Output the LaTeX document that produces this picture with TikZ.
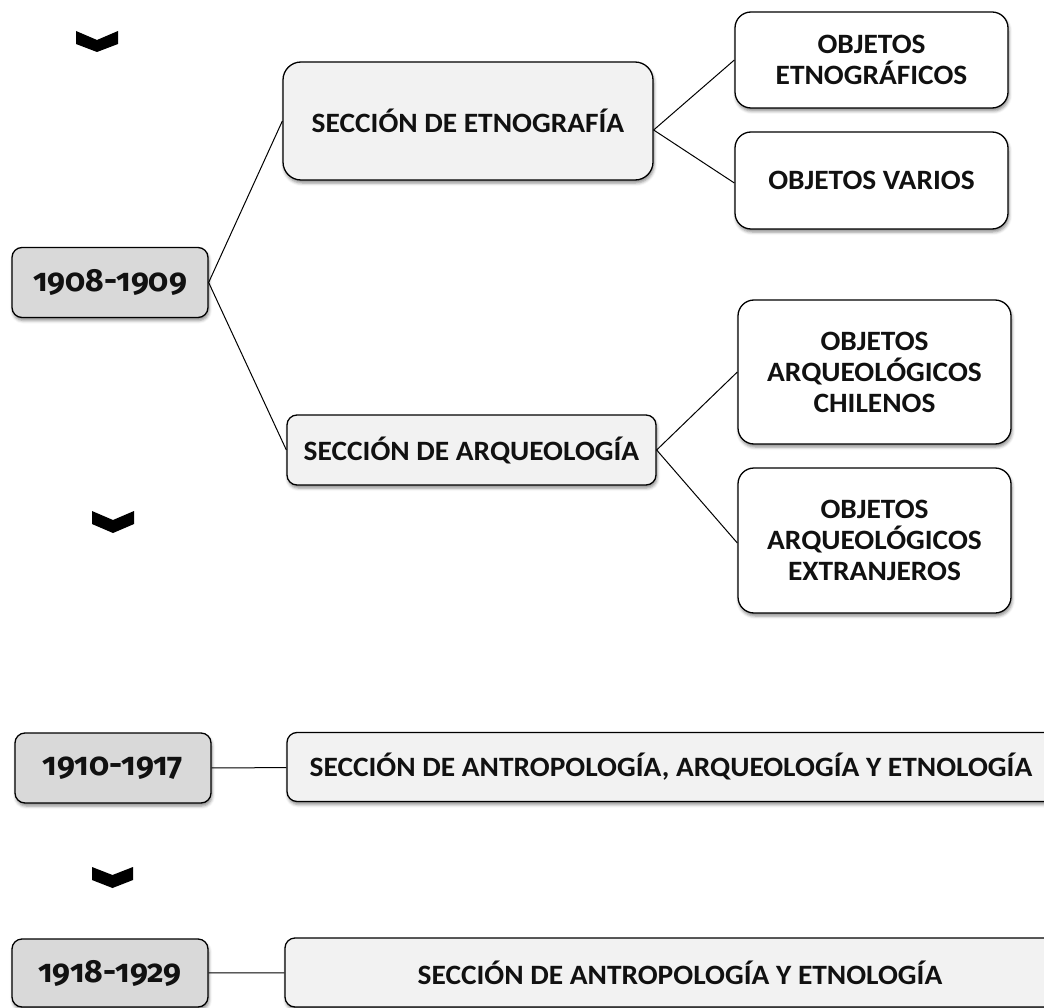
\documentclass[tikz,border=0pt]{standalone}
\usepackage{fontspec}
\setmainfont{Carlito}[FakeStretch=1.05]
\newfontfamily\yearfont{Fira Sans}[Numbers=OldStyle]
\usetikzlibrary{shadows.blur}

\definecolor{yearfill}{HTML}{D9D9D9}
\definecolor{secfill}{HTML}{F2F2F2}
\definecolor{inktext}{HTML}{111111}

\begin{document}
\begin{tikzpicture}[x=1pt,y=-1pt,
  box/.style={draw=black, line width=1.3pt, rounded corners=#1, align=center,
    text=inktext, inner sep=0pt,
    font=\bfseries\fontsize{28}{31}\selectfont,
    blur shadow={shadow xshift=1pt, shadow yshift=-3pt, shadow blur radius=3pt,
      shadow opacity=45}},
  yearbox/.style={box=10pt, fill=yearfill, minimum width=196pt, minimum height=70pt,
    font=\yearfont\bfseries\fontsize{32}{34}\selectfont},
  secbox/.style={box=#1, fill=secfill},
  objbox/.style={box=16pt, fill=white, minimum width=273pt},
  link/.style={draw=black, line width=1pt},
  chev/.style={fill=black, draw=none}]

\useasboundingbox (0,0) rectangle (1044,1008);
\clip (0,0) rectangle (1044,1008);

% period 1908-1909
\node[yearbox] (y1) at (110,282.5) {1908-1909};
\node[secbox=18pt, minimum width=370pt, minimum height=118pt] (etno) at (468,121) {SECCIÓN DE ETNOGRAFÍA};
\node[secbox=10pt, minimum width=369pt, minimum height=70pt] (arq) at (471.5,450) {SECCIÓN DE ARQUEOLOGÍA};
\node[objbox, minimum height=96pt] (oe) at (871.5,60) {OBJETOS\\ETNOGRÁFICOS};
\node[objbox, minimum height=97pt] (ov) at (871.5,180.5) {OBJETOS VARIOS};
\node[objbox, minimum height=144pt] (ach) at (874.5,372) {OBJETOS\\ARQUEOLÓGICOS\\CHILENOS};
\node[objbox, minimum height=145pt] (aex) at (874.5,540.5) {OBJETOS\\ARQUEOLÓGICOS\\EXTRANJEROS};

\draw[link] (etno.west) -- (y1.east) -- (arq.west);
\draw[link] (oe.west) -- ([yshift=-9pt]etno.east) -- ([yshift=-2.5pt]ov.west);
\draw[link] (ach.west) -- (arq.east) -- ([yshift=-2.5pt]aex.west);

% period 1910-1917
\node[yearbox] (y2) at (113,768) {1910-1917};
\node[secbox=10pt, minimum width=768pt, minimum height=69pt] (s2) at (671,767) {SECCIÓN DE ANTROPOLOGÍA, ARQUEOLOGÍA Y ETNOLOGÍA};
\draw[link] (y2) -- (s2);

% period 1918-1929
\node[yearbox, minimum height=68pt] (y3) at (110,973) {1918-1929};
\node[secbox=10pt, minimum width=790pt, minimum height=69pt] (s3) at (680,972.5) {SECCIÓN DE ANTROPOLOGÍA Y ETNOLOGÍA};
\draw[link] (y3) -- (s3);

% chevrons between periods
\fill[chev] (76,31) -- (97,40) -- (118,31) -- (118,44) -- (97,52) -- (76,44) -- cycle;
\fill[chev] (92,511) -- (113,520) -- (134,511) -- (134,524) -- (113,533) -- (92,524) -- cycle;
\fill[chev] (92,867) -- (112.5,875) -- (133,867) -- (133,880) -- (112.5,888) -- (92,880) -- cycle;
\end{tikzpicture}
\end{document}
